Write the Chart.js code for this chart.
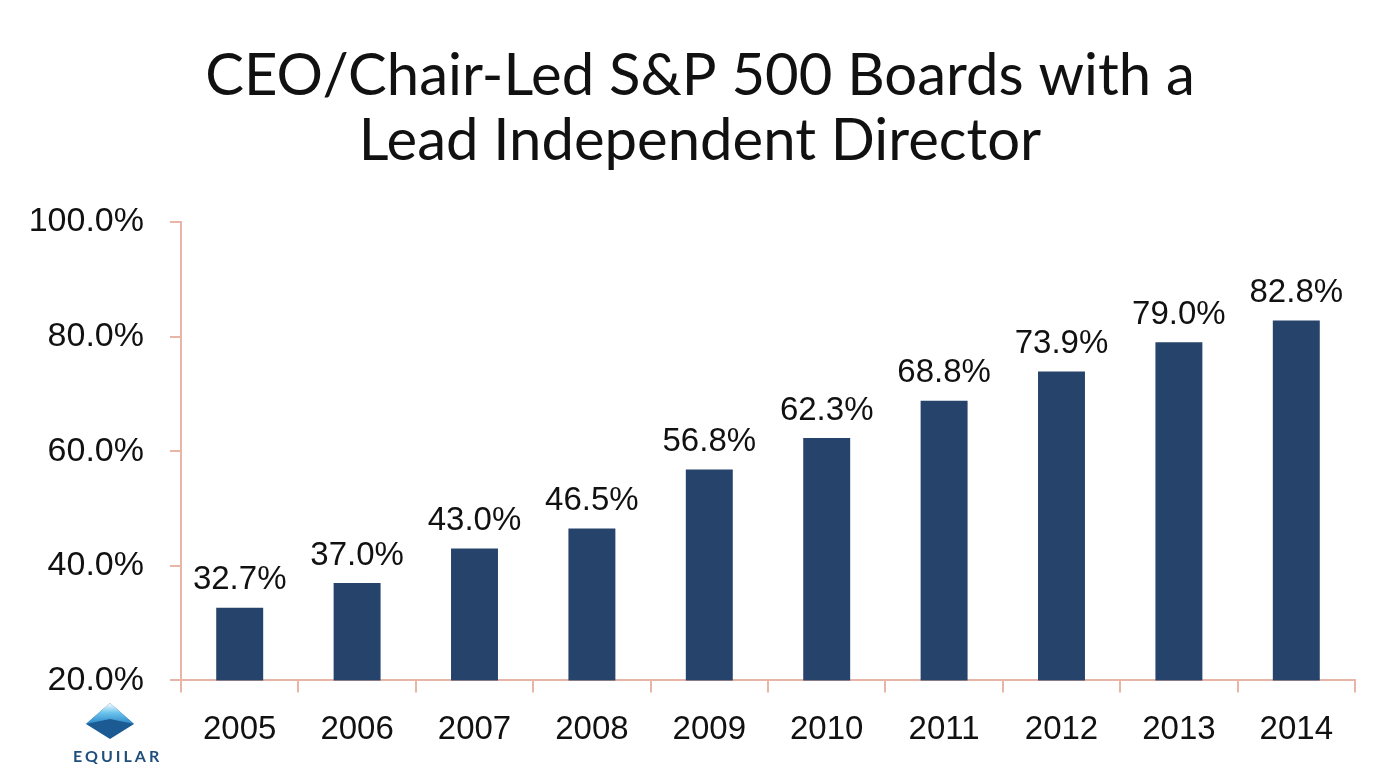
<!DOCTYPE html>
<html>
<head>
<meta charset="utf-8">
<script src="https://cdn.jsdelivr.net/npm/chart.js@4.4.1/dist/chart.umd.min.js"></script>
<style>
    html, body { margin: 0; padding: 0; background: #fff; }
    #wrap { position: relative; width: 1400px; height: 770px; }
    #logo { position: absolute; left: 70px; top: 702px; width: 80px; text-align: center; }
    #logo svg { display: block; margin: 0 auto; }
    #logo span { display: block; font-family: 'Lato', sans-serif; font-weight: bold; font-size: 16px; letter-spacing: 3px; color: #1f4f7d; margin-top: 6px; padding-left: 3px; }
</style>
</head>
<body>
<div id="wrap">
    <canvas id="chart"></canvas>
    <div id="logo">
        <svg width="50" height="38" viewBox="0 0 50 38">
            <defs>
                <linearGradient id="g1" x1="0" y1="0" x2="0" y2="1">
                    <stop offset="0" stop-color="#ffffff"/>
                    <stop offset="0.45" stop-color="#6ec6ee"/>
                    <stop offset="1" stop-color="#2a86c6"/>
                </linearGradient>
            </defs>
            <polygon points="25,1 49,22 25,37 1,22" fill="#1b5a92"/>
            <polygon points="25,1 49,22 25,17 1,22" fill="url(#g1)"/>
        </svg>
        <span>EQUILAR</span>
    </div>
</div>
<script>
// Data
const years = ['2005', '2006', '2007', '2008', '2009', '2010', '2011', '2012', '2013', '2014'];
const shares = [32.7, 37.0, 43.0, 46.5, 56.8, 62.3, 68.8, 73.9, 79.0, 82.8];
const yTicks = [20, 40, 60, 80, 100];
const titleLines = ['CEO/Chair-Led S&P 500 Boards with a', 'Lead Independent Director'];

const axisColor = '#e9b5a6';
const barColor = '#26446b';

// Title centred on the page, value labels above each bar
const extras = {
    id: 'extras',
    afterDatasetsDraw(chart) {
        const ctx = chart.ctx;
        const meta = chart.getDatasetMeta(0);
        ctx.save();
        ctx.fillStyle = '#111';
        ctx.textAlign = 'center';
        ctx.textBaseline = 'middle';
        ctx.font = '58px Lato, sans-serif';
        ctx.fillText(titleLines[0], 700, 76);
        ctx.fillText(titleLines[1], 700, 141);

        ctx.font = '33px "Liberation Sans", Arial, sans-serif';
        ctx.textBaseline = 'bottom';
        meta.data.forEach((bar, i) => {
            ctx.fillText(shares[i].toFixed(1) + '%', bar.x, bar.y - 11);
        });
        ctx.restore();
    }
};

const canvas = document.getElementById('chart');
canvas.width = 1400;
canvas.height = 770;

new Chart(canvas, {
    type: 'bar',
    data: {
        labels: years,
        datasets: [{
            data: shares,
            backgroundColor: barColor,
            borderWidth: 0,
            categoryPercentage: 0.4,
            barPercentage: 1.0
        }]
    },
    options: {
        responsive: false,
        animation: false,
        layout: { padding: { left: 0, right: 45, top: 222, bottom: 2 } },
        plugins: {
            legend: { display: false },
            tooltip: { enabled: false },
            title: { display: false }
        },
        scales: {
            x: {
                grid: {
                    offset: true,
                    drawOnChartArea: false,
                    color: axisColor,
                    lineWidth: 2,
                    tickLength: 12
                },
                border: { color: axisColor, width: 2 },
                ticks: {
                    color: '#111',
                    padding: 18,
                    font: { family: 'Liberation Sans', size: 33 }
                }
            },
            y: {
                min: 20,
                max: 100,
                afterBuildTicks(axis) {
                    axis.ticks = yTicks.map(v => ({ value: v }));
                },
                afterFit(axis) {
                    axis.width = 181;
                },
                grid: {
                    drawOnChartArea: false,
                    color: axisColor,
                    lineWidth: 2,
                    tickLength: 11
                },
                border: { color: axisColor, width: 2 },
                ticks: {
                    color: '#111',
                    padding: 26,
                    font: { family: 'Liberation Sans', size: 34 },
                    callback: v => v.toFixed(1) + '%'
                }
            }
        }
    },
    plugins: [extras]
});
</script>
</body>
</html>
